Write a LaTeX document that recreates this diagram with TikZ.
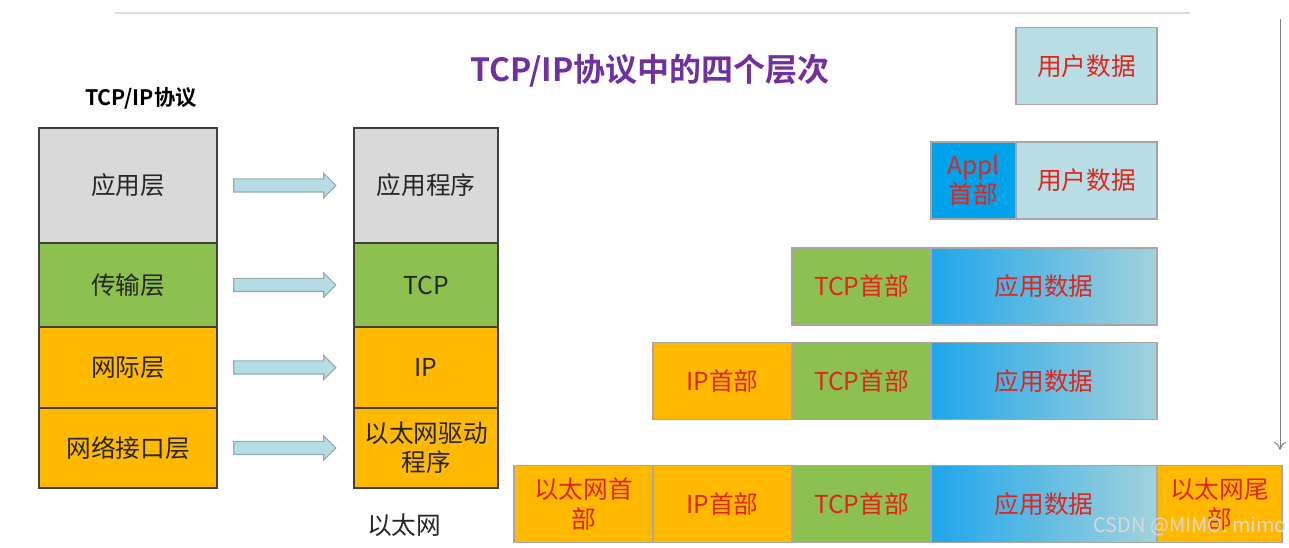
\documentclass[tikz,border=0pt]{standalone}
\usepackage{fontspec}
\setmainfont{Noto Sans CJK SC}[BoldFont={Noto Sans CJK SC Bold}]
\usetikzlibrary{arrows.meta,calc,positioning,shapes.arrows}
\definecolor{canvas}{HTML}{FFFFFF}
\definecolor{rulegray}{HTML}{DDDDDD}
\definecolor{ink}{HTML}{262626}
\definecolor{apgray}{HTML}{D9D9D9}
\definecolor{tpgreen}{HTML}{8DC14F}
\definecolor{ipgold}{HTML}{FFB901}
\definecolor{userblue}{HTML}{B9DDE4}
\definecolor{applblue}{HTML}{00A3E9}
\definecolor{deepblue}{HTML}{1FA6EA}
\definecolor{paleblue}{HTML}{A3D2DC}
\definecolor{hdrred}{HTML}{E0251B}
\definecolor{titlepurple}{HTML}{7030A0}
\definecolor{arrowfill}{HTML}{B6DCE5}
\definecolor{arrowline}{HTML}{97A9AE}

\begin{document}
\begin{tikzpicture}[x=.75pt,y=-.75pt,every node/.style={text=ink,font=\fontsize{18.5}{22}\selectfont,inner sep=0pt,outer sep=0pt},layer/.style={draw=black!75,line width=1pt,minimum width=133.5pt,align=center},drv/.style={layer,minimum width=108pt},cell/.style={draw=gray!70,line width=.8pt,minimum height=57.75pt,text=hdrred,align=center},hdr/.style={cell,minimum width=104.25pt},data/.style={cell,minimum width=169.5pt,left color=deepblue,right color=paleblue},pass/.style={single arrow,draw=arrowline,fill=arrowfill,line width=.8pt,inner xsep=0pt,inner ysep=4.5pt,minimum height=76.5pt,single arrow head extend=4.1pt}]
\fill[canvas] (0,0) rectangle (1289,548);\useasboundingbox (0,0) rectangle (1289,548);
\draw[rulegray,line width=.8pt] (115,13)--(1190,13);
\node[font=\bfseries\fontsize{24}{29}\selectfont,text=titlepurple] (title) at (650,71){TCP/IP协议中的四个层次};
\node[font=\bfseries\fontsize{16}{19}\selectfont,text=black] (proto) at (141,98){TCP/IP协议};
% protocol layers and their programs
\node[layer,fill=apgray,minimum height=86.25pt,anchor=north] (app) at (128,128){应用层};
\node[layer,fill=tpgreen,minimum height=63pt,below=0pt of app] (tra){传输层};
\node[layer,fill=ipgold,minimum height=60.75pt,below=0pt of tra] (net){网际层};
\node[layer,fill=ipgold,minimum height=60pt,below=0pt of net] (link){网络接口层};
\node[drv,fill=apgray,minimum height=86.25pt,anchor=north] (prog) at (426,128){应用程序};
\node[drv,fill=tpgreen,minimum height=63pt,below=0pt of prog] (tcp){TCP};
\node[drv,fill=ipgold,minimum height=60.75pt,below=0pt of tcp] (ip){IP};
\node[drv,fill=ipgold,minimum height=60pt,below=0pt of ip] (eth){以太网驱动\\程序};
\node (ethnet) at (404,525){以太网};
\foreach \a/\b in {app/prog,tra/tcp,net/ip,link/eth} \node[pass] (\a-go) at ($(\a.east)!.5!(\b.west)+(-4,0)$){};
% encapsulation rows
\node[cell,fill=userblue,minimum width=105.75pt,anchor=east] (user) at (1157,66){用户数据};
\node[cell,fill=userblue,minimum width=105.75pt,anchor=east] (user2) at (1157,180.5){用户数据};
\node[cell,fill=applblue,minimum width=63.75pt,left=0pt of user2] (appl){Appl\\首部};
\node[data,anchor=east] (pay3) at (1157,286.5){应用数据};
\node[hdr,fill=tpgreen,left=0pt of pay3] (tcph3){TCP首部};
\node[data,anchor=east] (pay4) at (1157,381){应用数据};
\node[hdr,fill=tpgreen,left=0pt of pay4] (tcph4){TCP首部};
\node[hdr,fill=ipgold,left=0pt of tcph4] (iph4){IP首部};
\node[data,anchor=east] (pay5) at (1157,504){应用数据};
\node[hdr,fill=tpgreen,left=0pt of pay5] (tcph5){TCP首部};
\node[hdr,fill=ipgold,left=0pt of tcph5] (iph5){IP首部};
\node[hdr,fill=ipgold,left=0pt of iph5] (ethh5){以太网首\\部};
\node[cell,fill=ipgold,minimum width=93.75pt,right=0pt of pay5] (etht){以太网尾\\部};
\coordinate (flowtop) at (1280,19);\coordinate (flowend) at (1280,450);
\draw[gray,line width=.7pt,-{To[length=6pt,width=9pt]}] (flowtop)--(flowend);
\node[text=white!85!black,font=\fontsize{15}{18}\selectfont,anchor=east] (mark) at (1287,526){CSDN @MIMO. mimo};
\end{tikzpicture}
\end{document}
